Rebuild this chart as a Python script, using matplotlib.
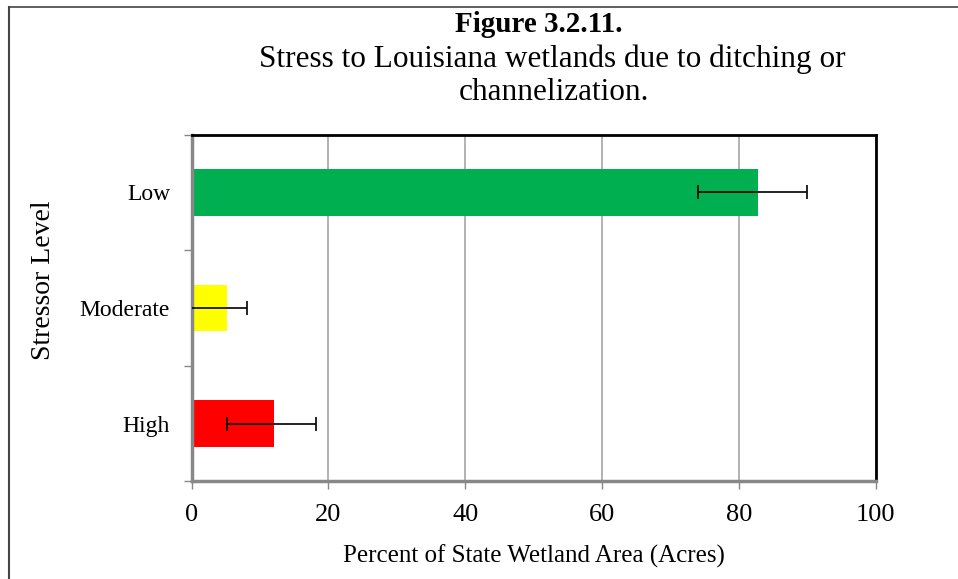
import matplotlib.pyplot as plt
from matplotlib.lines import Line2D

# data
levels = ['Low', 'Moderate', 'High']
pct = [82.8, 5.2, 12.0]
ci_lo = [74.0, -1.0, 5.2]
ci_hi = [90.0, 8.1, 18.1]
colors = ['#00B050', '#FFFF00', '#FF0000']
xticks = [0, 20, 40, 60, 80, 100]

plt.rcParams['font.family'] = ['Liberation Serif', 'DejaVu Serif']

fig = plt.figure(figsize=(9.58, 5.79), dpi=100)
ax = fig.add_axes([0.2001, 0.1687, 0.7140, 0.5987])

ypos = [2.5, 1.5, 0.5]
ax.barh(ypos, pct, height=0.40, color=colors, zorder=2)
xerr = [[p - lo for p, lo in zip(pct, ci_lo)], [hi - p for p, hi in zip(pct, ci_hi)]]
ax.errorbar(pct, ypos, xerr=xerr, fmt='none', ecolor='black', elinewidth=1.2,
            capsize=5, capthick=1.2, zorder=3)

ax.set_xlim(0, 100)
ax.set_ylim(0, 3)
ax.set_xticks(xticks)
ax.set_xticklabels([str(t) for t in xticks], fontsize=19)
ax.set_yticks([0, 1, 2, 3])
ax.set_yticklabels([])
ax.set_yticks(ypos, minor=True)
ax.set_yticklabels(levels, minor=True, fontsize=17)
ax.tick_params(axis='y', which='minor', length=0, pad=15.5)
ax.tick_params(axis='y', which='major', length=6, color='#888888', width=1)
ax.tick_params(axis='x', length=6, color='#888888', width=1, pad=10)

ax.grid(axis='x', color='#a6a6a6', linewidth=1.2, zorder=0)
ax.set_axisbelow(True)
for s in ['top', 'right']:
    ax.spines[s].set_color('black')
    ax.spines[s].set_linewidth(2)
for s in ['left', 'bottom']:
    ax.spines[s].set_color('#888888')
    ax.spines[s].set_linewidth(2.5)

ax.set_xlabel('Percent of State Wetland Area (Acres)', fontsize=18)
ax.xaxis.set_label_coords(0.5, -0.183)
ax.set_ylabel('Stressor Level', fontsize=20)
ax.yaxis.set_label_coords(-0.199, 0.58)

fig.text(0.562, 0.958, 'Figure 3.2.11.', ha='center', va='center',
         fontsize=21, fontweight='bold')
fig.text(0.577, 0.898, 'Stress to Louisiana wetlands due to ditching or',
         ha='center', va='center', fontsize=22.5)
fig.text(0.578, 0.841, 'channelization.', ha='center', va='center', fontsize=22.5)

# chart-area border (only top/left visible in the crop)
fig.add_artist(Line2D([0.0094, 0.0094], [0, 0.988], color='#444444', linewidth=1.5))
fig.add_artist(Line2D([0.0094, 1.0], [0.988, 0.988], color='#444444', linewidth=1.2))

fig.savefig('out.png', dpi=100)
